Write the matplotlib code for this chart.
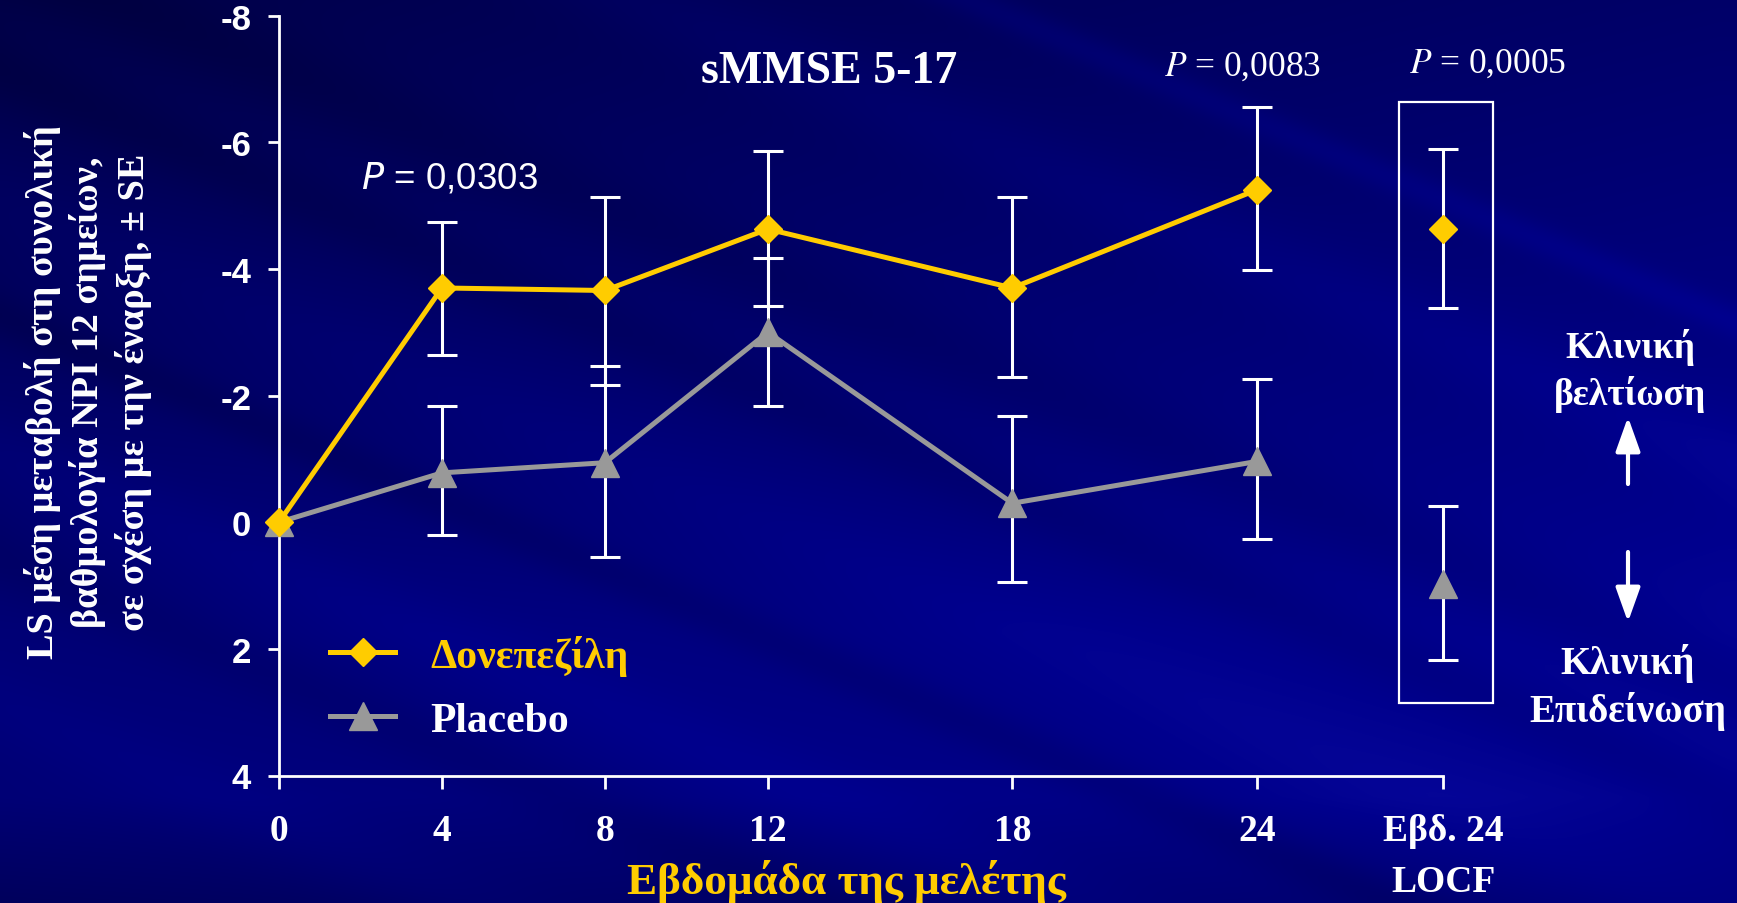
import numpy as np
import matplotlib
matplotlib.use("Agg")
import matplotlib.pyplot as plt
from matplotlib.lines import Line2D
from matplotlib.patches import Rectangle, FancyArrowPatch

# ---------------- data ----------------
weeks = [0, 4, 8, 12, 18, 24]
tick_labels = ['0', '4', '8', '12', '18', '24', 'Εβδ. 24\nLOCF']
don_mean = [0.0, -3.70, -3.66, -4.63, -3.70, -5.25]
don_lo = [0.0, -4.74, -5.14, -5.87, -5.14, -6.56]
don_hi = [0.0, -2.64, -2.17, -3.42, -2.30, -3.99]
pla_mean = [0.0, -0.78, -0.94, -3.00, -0.30, -0.96]
pla_lo = [0.0, -1.83, -2.46, -4.18, -1.67, -2.26]
pla_hi = [0.0, 0.20, 0.55, -1.84, 0.95, 0.27]
locf_don = [-4.63]
locf_don_lo = [-5.90]
locf_don_hi = [-3.39]
locf_pla = [0.98]
locf_pla_lo = [-0.26]
locf_pla_hi = [2.18]
p_values = ['0,0303', '0,0083', '0,0005']
y_ticks = [-8, -6, -4, -2, 0, 2, 4]

# ---------------- style ----------------
GOLD = '#FFCC00'
GRAY = '#999999'
SERIF = 'Liberation Serif'
SANS = 'Liberation Sans'
LOCF_X = 28.57

W, H = 1737, 904
fig = plt.figure(figsize=(W / 100, H / 100), dpi=100)

# background
bg = fig.add_axes([0, 0, 1, 1], zorder=-10)
bg.set_axis_off()
ny, nx = 226, 434
yy, xx = np.mgrid[0:ny, 0:nx]
X = xx / nx * (W / H)
Y = yy / ny
base = 0.29 + 0.12 * np.clip(X / 1.9, 0, 1) + 0.17 * np.clip(Y / 0.7, 0, 1)
base -= 0.10 * np.clip((Y - 0.88) / 0.12, 0, 1)
u = Y - 0.42 * X
bands = np.zeros_like(base)
for c, w, a in [(-0.05, 0.05, -0.04), (0.08, 0.04, -0.04), (0.22, 0.06, 0.03),
                (0.35, 0.03, -0.05), (0.5, 0.05, 0.04), (0.62, 0.04, -0.04),
                (0.78, 0.05, 0.03), (-0.3, 0.05, 0.04), (-0.45, 0.02, 0.06)]:
    bands += a * np.exp(-((u - c) / w) ** 2)
v = np.clip(base + bands, 0, 1)
img = np.zeros((ny, nx, 3))
img[..., 0] = np.clip((v - 0.55) * 0.5, 0, 1)
img[..., 1] = np.clip((v - 0.55) * 0.5, 0, 1)
img[..., 2] = v
bg.imshow(img, aspect='auto', extent=[0, 1, 0, 1], origin='upper', interpolation='bilinear')
bg.set_xlim(0, 1)
bg.set_ylim(0, 1)

ax_left = 279 / W
ax_right = 1443 / W
ax_top = 1 - 16.7 / H
ax_bot = 1 - 776.5 / H
ax = fig.add_axes([ax_left, ax_bot, ax_right - ax_left, ax_top - ax_bot])
ax.set_facecolor('none')
ax.set_xlim(0, LOCF_X)
ax.set_ylim(4, -8)

for s in ['top', 'right']:
    ax.spines[s].set_visible(False)
for s in ['left', 'bottom']:
    ax.spines[s].set_color('white')
    ax.spines[s].set_linewidth(2.0)

ax.set_yticks(y_ticks)
ax.set_yticklabels([str(t) for t in y_ticks])
ax.set_xticks(weeks + [LOCF_X])
ax.set_xticklabels(tick_labels)
ax.tick_params(axis='y', direction='out', length=8, width=2, color='white', pad=12,
               labelcolor='white', labelsize=25)
ax.tick_params(axis='x', direction='out', length=9, width=2, color='white', pad=18,
               labelcolor='white', labelsize=27)
for lab in ax.get_yticklabels():
    lab.set_fontfamily(SANS)
    lab.set_fontweight('bold')
for lab in ax.get_xticklabels():
    lab.set_fontfamily(SERIF)
    lab.set_fontweight('bold')
    lab.set_linespacing(1.6)

# error bars
def err(mean, lo, hi):
    m = np.asarray(mean); l = np.asarray(lo); h = np.asarray(hi)
    return [m - l, h - m]

eb_kw = dict(fmt='none', ecolor='white', elinewidth=2.2, capsize=10.5, capthick=2.2,
             zorder=3, clip_on=False)
ax.errorbar(weeks[1:], don_mean[1:], yerr=err(don_mean[1:], don_lo[1:], don_hi[1:]), **eb_kw)
ax.errorbar(weeks[1:], pla_mean[1:], yerr=err(pla_mean[1:], pla_lo[1:], pla_hi[1:]), **eb_kw)
ax.errorbar([LOCF_X], locf_don, yerr=err(locf_don, locf_don_lo, locf_don_hi), **eb_kw)
ax.errorbar([LOCF_X], locf_pla, yerr=err(locf_pla, locf_pla_lo, locf_pla_hi), **eb_kw)

# lines
ax.plot(weeks, pla_mean, color=GRAY, lw=3.6, marker='^', ms=20, mec=GRAY, zorder=4, clip_on=False)
ax.plot(weeks, don_mean, color=GOLD, lw=3.6, marker='D', ms=14, mec=GOLD, zorder=5, clip_on=False)
ax.plot([LOCF_X], locf_don, ls='none', marker='D', ms=14, color=GOLD, zorder=5, clip_on=False)
ax.plot([LOCF_X], locf_pla, ls='none', marker='^', ms=20, color=GRAY, zorder=4, clip_on=False)

# LOCF box
ax.add_patch(Rectangle((27.49, -6.63), 29.80 - 27.49, 2.86 + 6.63, fill=False,
                       ec='white', lw=1.6, clip_on=False, zorder=2))

# legend
handles = [Line2D([], [], color=GOLD, lw=3.6, marker='D', ms=14),
           Line2D([], [], color=GRAY, lw=3.6, marker='^', ms=20)]
leg = ax.legend(handles, ['Δονεπεζίλη', 'Placebo'], loc='upper left',
                bbox_to_anchor=(0.044, 0.185), frameon=False, handlelength=1.56,
                handletextpad=0.85, labelspacing=0.62, borderpad=0, borderaxespad=0,
                prop={'family': SERIF, 'weight': 'bold', 'size': 30})
leg.get_texts()[0].set_color(GOLD)
leg.get_texts()[1].set_color('white')

# texts
fig.text(829.5 / W, 1 - 72 / H, 'sMMSE 5-17', ha='center', va='center', color='white',
         family=SERIF, weight='bold', size=33)
fig.text(449 / W, 1 - 179 / H, '$P$ = ' + p_values[0], ha='center', va='center', color='white',
         family=SANS, size=26.5, math_fontfamily='dejavusans')
fig.text(1243 / W, 1 - 67 / H, '$P$ = ' + p_values[1], ha='center', va='center', color='white',
         family=SERIF, size=25.5, math_fontfamily='stix')
fig.text(1488 / W, 1 - 64 / H, '$P$ = ' + p_values[2], ha='center', va='center', color='white',
         family=SERIF, size=25.5, math_fontfamily='stix')

fig.text(846 / W, 1 - 882 / H, 'Εβδομάδα της μελέτης', ha='center', va='center', color=GOLD,
         family=SERIF, weight='bold', size=32.5)

fig.text(88 / W, 1 - 392 / H,
         'LS μέση μεταβολή στη συνολική\nβαθμολογία NPI 12 σημείων,\nσε σχέση με την έναρξη, ± SE',
         rotation=90, ha='center', va='center', multialignment='center', color='white',
         family=SERIF, weight='bold', size=27.5, linespacing=1.3)

fig.text(1630 / W, 1 - 371 / H, 'Κλινική\nβελτίωση', ha='center', va='center', color='white',
         family=SERIF, weight='bold', size=27, linespacing=1.35)
fig.text(1628 / W, 1 - 688 / H, 'Κλινική\nΕπιδείνωση', ha='center', va='center', color='white',
         family=SERIF, weight='bold', size=28, linespacing=1.3)

arrow_kw = dict(arrowstyle='-|>,head_length=0.7,head_width=0.25', color='white', lw=3,
                mutation_scale=30, shrinkA=0, shrinkB=0)
fig.add_artist(FancyArrowPatch((1628 / W, 1 - 485 / H), (1628 / W, 1 - 418 / H),
                               transform=fig.transFigure, **arrow_kw))
fig.add_artist(FancyArrowPatch((1628 / W, 1 - 553 / H), (1628 / W, 1 - 623 / H),
                               transform=fig.transFigure, **arrow_kw))

fig.savefig('out.png', dpi=100)
